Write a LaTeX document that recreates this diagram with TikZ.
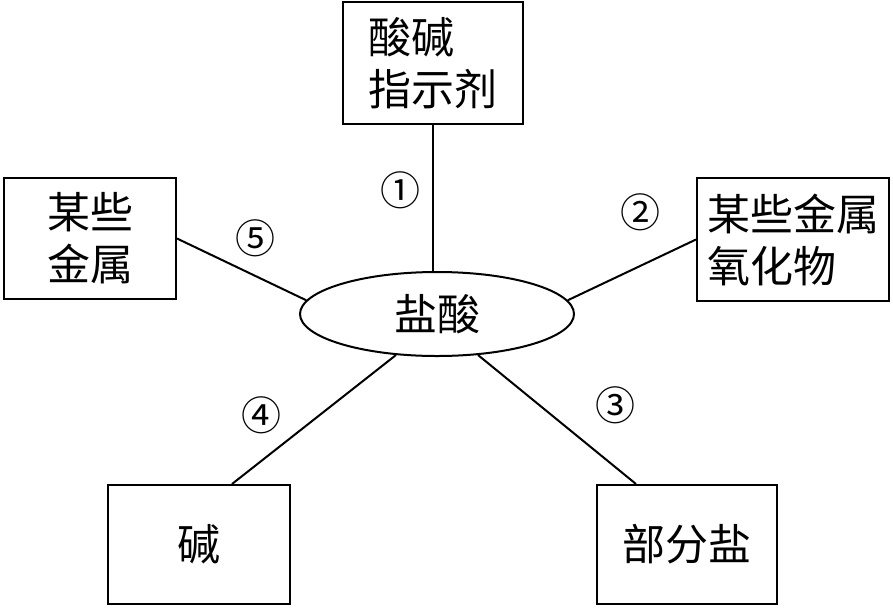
\documentclass[tikz,border=0pt]{standalone}
\usepackage{fontspec}
\setmainfont{Noto Sans CJK SC}
\usetikzlibrary{shapes.geometric,calc}
\begin{document}
\begin{tikzpicture}[x=1pt,y=-1pt,
  box/.style={draw,line width=2pt,align=left,font=\fontsize{43}{52}\selectfont,inner sep=0pt},
  lbl/.style={font=\fontsize{40}{40}\selectfont},
  ln/.style={line width=2pt}]
\useasboundingbox (0,0) rectangle (893,611);
\node[box,minimum width=180,minimum height=122] (top) at (433,63) {酸碱\\指示剂};
\node[box,minimum width=172,minimum height=121] (lbox) at (90,238.5) {某些\\金属};
\node[box,minimum width=192,minimum height=123] (rbox) at (793,239.5) {某些金属\\氧化物};
\node[box,minimum width=182,minimum height=119] (blbox) at (199,544.5) {碱};
\node[box,minimum width=180,minimum height=119] (brbox) at (687,544.5) {部分盐};
\node[ellipse,draw,line width=2pt,minimum width=274,minimum height=84,font=\fontsize{43}{50}\selectfont,inner sep=0pt] (ell) at (437,314) {盐酸};
\draw[ln] (top.south |- ell.north) -- (top.south);
\draw[ln] (ell.174) -- (lbox.east);
\draw[ln] (ell.6) -- (rbox.west);
\draw[ln] (ell.225) -- ($(blbox.north)+(33,0)$);
\draw[ln] (ell.315) -- ($(brbox.north)+(-51,0)$);
\node[lbl] (n1) at (400,190) {①};
\node[lbl] (n2) at (640,212) {②};
\node[lbl] (n3) at (615,405) {③};
\node[lbl] (n4) at (261,415) {④};
\node[lbl] (n5) at (255,238) {⑤};
\end{tikzpicture}
\end{document}
